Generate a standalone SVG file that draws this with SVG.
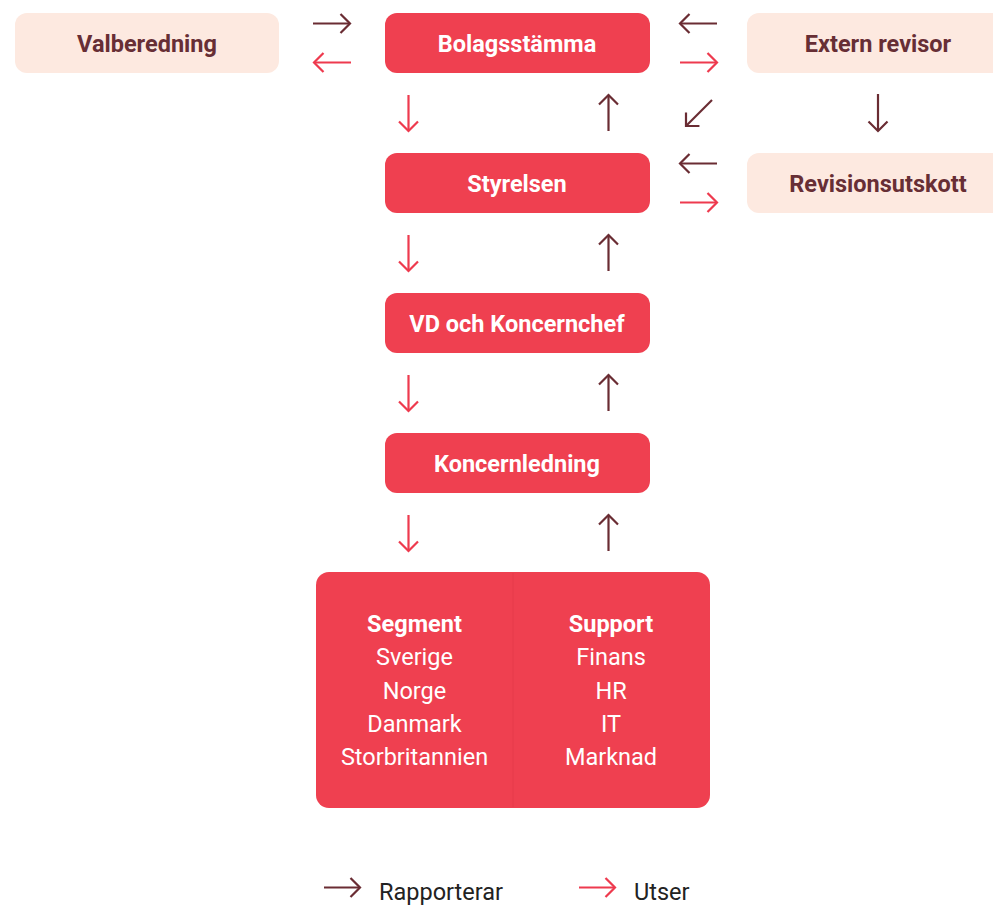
<svg xmlns="http://www.w3.org/2000/svg" width="993" height="906" viewBox="0 0 993 906">
<defs>
<style>
.main{fill:#ef4050}
.side{fill:#fde9e0}
.tw{fill:#fff;font-family:Roboto,"Liberation Sans",sans-serif;font-size:23.5px;font-weight:bold;text-anchor:middle}
.td{fill:#672e35;font-family:Roboto,"Liberation Sans",sans-serif;font-size:23.5px;font-weight:bold;text-anchor:middle}
.tl{fill:#fff;font-family:Roboto,"Liberation Sans",sans-serif;font-size:23.5px;text-anchor:middle}
.tb{fill:#fff;font-family:Roboto,"Liberation Sans",sans-serif;font-size:23.5px;font-weight:bold;text-anchor:middle}
.leg{fill:#222;font-family:Roboto,"Liberation Sans",sans-serif;font-size:23.5px}
.r{stroke:#6a2c33;stroke-width:2.2;fill:none;marker-end:url(#hr)}
.u{stroke:#ee3a4e;stroke-width:2.2;fill:none;marker-end:url(#hu)}
</style>
<marker id="hr" markerUnits="userSpaceOnUse" viewBox="-12 -12 24 24" markerWidth="24" markerHeight="24" orient="auto" refX="0" refY="0"><path d="M-9.5,-9.5 L0,0 L-9.5,9.5" fill="none" stroke="#6a2c33" stroke-width="2.2"/></marker>
<marker id="hu" markerUnits="userSpaceOnUse" viewBox="-12 -12 24 24" markerWidth="24" markerHeight="24" orient="auto" refX="0" refY="0"><path d="M-9.5,-9.5 L0,0 L-9.5,9.5" fill="none" stroke="#ee3a4e" stroke-width="2.2"/></marker>
</defs>
<g id="valberedning"><rect class="side" x="15" y="13" width="264" height="60" rx="12"/><text class="td" x="147" y="52">Valberedning</text></g>
<g id="bolagsstamma"><rect class="main" x="385" y="13" width="265" height="60" rx="12"/><text class="tw" x="517" y="52">Bolagsstämma</text></g>
<g id="extern-revisor"><rect class="side" x="747" y="13" width="264" height="60" rx="12"/><text class="td" x="878" y="52">Extern revisor</text></g>
<g id="styrelsen"><rect class="main" x="385" y="153" width="265" height="60" rx="12"/><text class="tw" x="517" y="192">Styrelsen</text></g>
<g id="revisionsutskott"><rect class="side" x="747" y="153" width="264" height="60" rx="12"/><text class="td" x="878" y="192">Revisionsutskott</text></g>
<g id="vd"><rect class="main" x="385" y="293" width="265" height="60" rx="12"/><text class="tw" x="517" y="332">VD och Koncernchef</text></g>
<g id="koncernledning"><rect class="main" x="385" y="433" width="265" height="60" rx="12"/><text class="tw" x="517" y="472">Koncernledning</text></g>
<g id="segment-support">
<rect class="main" x="316" y="572" width="394" height="236" rx="13"/>
<line x1="513" y1="573" x2="513" y2="807" stroke="#e63a4a" stroke-width="1"/>
<text class="tb" x="414.5" y="632">Segment</text>
<text class="tl" x="414.5" y="665">Sverige</text>
<text class="tl" x="414.5" y="698.5">Norge</text>
<text class="tl" x="414.5" y="732">Danmark</text>
<text class="tl" x="414.5" y="765">Storbritannien</text>
<text class="tb" x="611" y="632">Support</text>
<text class="tl" x="611" y="665">Finans</text>
<text class="tl" x="611" y="698.5">HR</text>
<text class="tl" x="611" y="732">IT</text>
<text class="tl" x="611" y="765">Marknad</text>
</g>
<g id="connectors">
<path class="r" d="M313,23.5 H350"/>
<path class="u" d="M351,62.5 H314"/>
<path class="r" d="M717,23.5 H680"/>
<path class="u" d="M680,62.5 H717"/>
<path class="u" d="M408.5,95 V131"/>
<path class="r" d="M608.5,131 V95"/>
<path class="r" d="M712,100 L686,126"/>
<path class="r" d="M878,94 V131"/>
<path class="r" d="M717,163.5 H680"/>
<path class="u" d="M680,202.5 H717"/>
<path class="u" d="M408.5,235 V271"/>
<path class="r" d="M608.5,271 V235"/>
<path class="u" d="M408.5,375 V411"/>
<path class="r" d="M608.5,411 V375"/>
<path class="u" d="M408.5,515 V551"/>
<path class="r" d="M608.5,551 V515"/>
</g>
<g id="legend">
<path class="r" d="M324,887.5 H360"/>
<text class="leg" x="379" y="899.5">Rapporterar</text>
<path class="u" d="M579,887.5 H615"/>
<text class="leg" x="634" y="899.5">Utser</text>
</g>
</svg>
